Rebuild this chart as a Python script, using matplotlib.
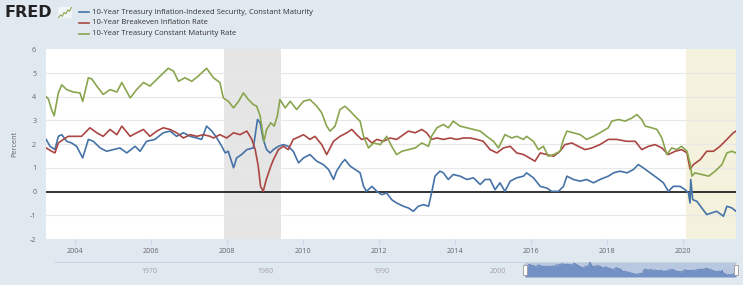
import matplotlib
matplotlib.use("Agg")
import matplotlib.pyplot as plt
from matplotlib.lines import Line2D
from matplotlib.patches import Rectangle

W, H = 743, 285

# ---------------- data (decimal years, percent) ----------------
tips_x = [2003.25, 2003.35, 2003.48, 2003.57, 2003.66, 2003.79, 2003.92, 2004.05, 2004.21, 2004.36,
          2004.49, 2004.67, 2004.84, 2005.02, 2005.19, 2005.37, 2005.59, 2005.72, 2005.89, 2006.11,
          2006.33, 2006.51, 2006.68, 2006.86, 2007.04, 2007.21, 2007.34, 2007.47, 2007.61, 2007.74,
          2007.87, 2007.96, 2008.04, 2008.18, 2008.26, 2008.39, 2008.53, 2008.70, 2008.81, 2008.88,
          2008.96, 2009.05, 2009.14, 2009.23, 2009.36, 2009.49, 2009.62, 2009.75, 2009.89, 2010.02,
          2010.19, 2010.37, 2010.54, 2010.68, 2010.81, 2010.89, 2011.03, 2011.11, 2011.25, 2011.38,
          2011.51, 2011.60, 2011.68, 2011.82, 2011.95, 2012.08, 2012.21, 2012.34, 2012.47, 2012.65,
          2012.78, 2012.91, 2013.04, 2013.18, 2013.31, 2013.39, 2013.48, 2013.61, 2013.70, 2013.83,
          2013.96, 2014.14, 2014.32, 2014.49, 2014.67, 2014.80, 2014.93, 2015.06, 2015.19, 2015.32,
          2015.46, 2015.63, 2015.81, 2015.89, 2016.07, 2016.25, 2016.42, 2016.55, 2016.73, 2016.86,
          2016.95, 2017.12, 2017.30, 2017.47, 2017.65, 2017.82, 2018.04, 2018.18, 2018.35, 2018.53,
          2018.70, 2018.83, 2018.96, 2019.14, 2019.32, 2019.49, 2019.62, 2019.75, 2019.93, 2020.06,
          2020.15, 2020.19, 2020.21, 2020.26, 2020.37, 2020.50, 2020.63, 2020.76, 2020.89, 2021.07,
          2021.16, 2021.29, 2021.40]
tips_y = [2.20, 1.91, 1.77, 2.33, 2.40, 2.12, 2.05, 1.91, 1.42, 2.20,
          2.12, 1.84, 1.70, 1.77, 1.84, 1.63, 1.91, 1.70, 2.12, 2.20,
          2.48, 2.55, 2.33, 2.48, 2.33, 2.26, 2.20, 2.76, 2.55, 2.26,
          1.91, 1.63, 1.70, 1.00, 1.42, 1.56, 1.77, 1.84, 3.04, 2.90,
          2.20, 1.77, 1.63, 1.77, 1.91, 1.98, 1.91, 1.70, 1.21, 1.42,
          1.56, 1.28, 1.14, 0.93, 0.51, 0.86, 1.21, 1.35, 1.07, 0.93,
          0.79, 0.22, 0.01, 0.22, 0.01, -0.13, -0.06, -0.34, -0.48, -0.62,
          -0.69, -0.83, -0.62, -0.55, -0.62, -0.06, 0.65, 0.86, 0.79, 0.51,
          0.72, 0.65, 0.51, 0.58, 0.30, 0.51, 0.51, 0.08, 0.37, 0.01,
          0.44, 0.58, 0.65, 0.79, 0.58, 0.22, 0.15, 0.01, 0.01, 0.22,
          0.65, 0.51, 0.44, 0.51, 0.37, 0.51, 0.65, 0.79, 0.86, 0.79,
          0.93, 1.14, 1.00, 0.79, 0.58, 0.37, 0.01, 0.22, 0.22, 0.08,
          -0.06, -0.48, 0.51, -0.34, -0.41, -0.69, -0.97, -0.90, -0.83, -1.04,
          -0.62, -0.69, -0.83]

bei_x = [2003.25, 2003.39, 2003.48, 2003.57, 2003.70, 2003.83, 2004.01, 2004.18, 2004.40, 2004.58,
         2004.75, 2004.93, 2005.11, 2005.24, 2005.46, 2005.63, 2005.81, 2005.98, 2006.16, 2006.33,
         2006.51, 2006.68, 2006.86, 2007.04, 2007.21, 2007.39, 2007.56, 2007.65, 2007.82, 2008.00,
         2008.18, 2008.35, 2008.53, 2008.66, 2008.75, 2008.83, 2008.89, 2008.96, 2009.04, 2009.10,
         2009.16, 2009.23, 2009.36, 2009.49, 2009.62, 2009.75, 2009.93, 2010.02, 2010.19, 2010.32,
         2010.50, 2010.63, 2010.81, 2010.98, 2011.16, 2011.29, 2011.42, 2011.55, 2011.68, 2011.82,
         2011.95, 2012.12, 2012.30, 2012.47, 2012.65, 2012.78, 2012.96, 2013.13, 2013.26, 2013.39,
         2013.53, 2013.70, 2013.88, 2014.05, 2014.23, 2014.40, 2014.58, 2014.75, 2014.93, 2015.11,
         2015.28, 2015.46, 2015.63, 2015.81, 2015.89, 2016.11, 2016.25, 2016.42, 2016.60, 2016.77,
         2016.90, 2017.08, 2017.25, 2017.43, 2017.61, 2017.82, 2018.04, 2018.26, 2018.53, 2018.75,
         2018.92, 2019.10, 2019.27, 2019.45, 2019.62, 2019.80, 2019.97, 2020.11, 2020.19, 2020.28,
         2020.46, 2020.63, 2020.81, 2020.98, 2021.16, 2021.33, 2021.40]
bei_y = [1.84, 1.70, 1.63, 2.05, 2.20, 2.33, 2.33, 2.33, 2.69, 2.48,
         2.33, 2.62, 2.40, 2.76, 2.33, 2.48, 2.62, 2.33, 2.55, 2.69,
         2.62, 2.48, 2.26, 2.40, 2.33, 2.40, 2.33, 2.26, 2.40, 2.26,
         2.48, 2.40, 2.55, 2.20, 1.77, 1.07, 0.22, 0.01, 0.50, 0.79,
         1.07, 1.35, 1.77, 1.91, 1.77, 2.20, 2.33, 2.40, 2.20, 2.33,
         1.98, 1.56, 2.12, 2.33, 2.48, 2.62, 2.40, 2.20, 2.26, 2.05,
         2.20, 2.12, 2.26, 2.20, 2.40, 2.55, 2.48, 2.62, 2.48, 2.20,
         2.26, 2.20, 2.26, 2.20, 2.26, 2.26, 2.20, 2.12, 1.77, 1.63,
         1.84, 1.91, 1.63, 1.56, 1.49, 1.28, 1.63, 1.56, 1.49, 1.70,
         1.98, 2.05, 1.91, 1.77, 1.84, 1.98, 2.20, 2.20, 2.12, 2.12,
         1.77, 1.91, 1.98, 1.84, 1.56, 1.70, 1.77, 1.63, 0.95, 1.14,
         1.35, 1.70, 1.70, 1.91, 2.20, 2.48, 2.55]

tcm_x = [2003.25, 2003.31, 2003.39, 2003.46, 2003.57, 2003.66, 2003.79, 2003.96, 2004.14, 2004.21,
         2004.36, 2004.45, 2004.58, 2004.75, 2004.93, 2005.11, 2005.24, 2005.46, 2005.63, 2005.81,
         2005.98, 2006.25, 2006.46, 2006.60, 2006.73, 2006.90, 2007.08, 2007.25, 2007.47, 2007.65,
         2007.82, 2007.91, 2008.04, 2008.18, 2008.31, 2008.44, 2008.57, 2008.70, 2008.79, 2008.88,
         2008.92, 2008.98, 2009.05, 2009.16, 2009.25, 2009.33, 2009.40, 2009.54, 2009.67, 2009.84,
         2010.02, 2010.19, 2010.37, 2010.50, 2010.63, 2010.72, 2010.85, 2010.98, 2011.11, 2011.25,
         2011.42, 2011.51, 2011.60, 2011.73, 2011.86, 2012.04, 2012.21, 2012.34, 2012.47, 2012.61,
         2012.78, 2012.96, 2013.13, 2013.31, 2013.39, 2013.53, 2013.70, 2013.83, 2013.96, 2014.14,
         2014.32, 2014.49, 2014.67, 2014.84, 2015.02, 2015.15, 2015.32, 2015.50, 2015.63, 2015.81,
         2015.89, 2016.07, 2016.20, 2016.33, 2016.46, 2016.60, 2016.77, 2016.86, 2016.95, 2017.12,
         2017.30, 2017.47, 2017.65, 2017.82, 2018.04, 2018.13, 2018.31, 2018.48, 2018.66, 2018.79,
         2018.92, 2019.01, 2019.18, 2019.32, 2019.45, 2019.58, 2019.71, 2019.84, 2019.97, 2020.11,
         2020.19, 2020.24, 2020.32, 2020.50, 2020.68, 2020.85, 2021.03, 2021.16, 2021.29, 2021.40]
tcm_y = [4.00, 3.90, 3.46, 3.20, 4.16, 4.50, 4.30, 4.20, 4.16, 3.80,
         4.80, 4.75, 4.45, 4.10, 4.30, 4.20, 4.60, 3.95, 4.30, 4.60,
         4.45, 4.87, 5.20, 5.08, 4.65, 4.80, 4.65, 4.87, 5.20, 4.80,
         4.60, 3.95, 3.81, 3.53, 3.80, 4.16, 3.88, 3.67, 3.60, 3.18,
         2.76, 2.12, 2.62, 2.90, 2.76, 3.18, 3.88, 3.53, 3.81, 3.46,
         3.81, 3.88, 3.60, 3.32, 2.76, 2.55, 2.76, 3.46, 3.60, 3.39,
         3.10, 2.97, 2.33, 1.84, 2.05, 1.98, 2.33, 1.91, 1.56, 1.70,
         1.77, 1.84, 2.05, 1.91, 2.33, 2.69, 2.83, 2.69, 2.97, 2.76,
         2.69, 2.62, 2.55, 2.33, 2.12, 1.84, 2.40, 2.26, 2.33, 2.20,
         2.33, 2.12, 1.77, 1.91, 1.49, 1.56, 1.70, 2.20, 2.55, 2.48,
         2.40, 2.20, 2.33, 2.48, 2.69, 2.97, 3.04, 2.97, 3.10, 3.25,
         3.04, 2.76, 2.69, 2.62, 2.26, 1.56, 1.84, 1.77, 1.91, 1.70,
         1.21, 0.65, 0.79, 0.72, 0.65, 0.86, 1.14, 1.63, 1.70, 1.63]

series_names = ["10-Year Treasury Inflation-Indexed Security, Constant Maturity",
                "10-Year Breakeven Inflation Rate",
                "10-Year Treasury Constant Maturity Rate"]
series_colors = ["#4572a7", "#aa4643", "#89a54e"]

rec_start = [2007.917, 2020.083]
rec_end = [2009.417, 2021.40]
rec_colors = ["#e5e5e5", "#f4f2dc"]

y_ticks = [-2, -1, 0, 1, 2, 3, 4, 5, 6]
x_ticks = [2004, 2006, 2008, 2010, 2012, 2014, 2016, 2018, 2020]
nav_ticks = [1970, 1980, 1990, 2000, 2010, 2020]
icon_y = [1, 3, 2, 5, 4, 7, 6, 9]

# ---------------- figure ----------------
BG = "#e1e9f0"
plt.rcParams['font.family'] = ['Open Sans', 'DejaVu Sans']
fig = plt.figure(figsize=(W / 100, H / 100), dpi=100, facecolor=BG)


def fx(px):
    return px / W


def fy(py):
    return 1 - py / H


ax = fig.add_axes([fx(46), fy(239), fx(736) - fx(46), fy(49.3) - fy(239)])
ax.set_facecolor("white")
ax.set_xlim(2003.245, 2021.40)
ax.set_ylim(-2, 6)
for s in ax.spines.values():
    s.set_visible(False)

for a, b, c in zip(rec_start, rec_end, rec_colors):
    ax.axvspan(a, b, color=c, lw=0, zorder=0)

for t in y_ticks:
    if t not in (-2, 6, 0):
        ax.axhline(t, color="#e8e8e8", lw=0.9, zorder=1)
ax.axhline(0, color="#111111", lw=1.2, zorder=2)

for xs, ys, c in zip([tips_x, bei_x, tcm_x], [tips_y, bei_y, tcm_y], series_colors):
    ax.plot(xs, ys, color=c, lw=1.2, zorder=3, solid_joinstyle="round")

ax.set_yticks(y_ticks)
ax.set_yticklabels([str(t) for t in y_ticks])
ax.set_xticks(x_ticks)
ax.set_xticklabels([str(t) for t in x_ticks])
ax.tick_params(axis="y", length=0, pad=7, labelsize=5.2, labelcolor="#666666")
ax.tick_params(axis="x", length=4, width=0.8, color="#ccd6eb", pad=2.5,
               labelsize=5.2, labelcolor="#666666")
ax.set_ylabel("Percent", fontsize=5.2, color="#666666", labelpad=8)

# ---------------- legend / logo ----------------
fig.text(fx(5), fy(12.7), "FRED", fontsize=11.5, fontweight="bold", color="#222222",
         family="DejaVu Sans", ha="left", va="center")
iax = fig.add_axes([fx(58), fy(18), fx(14), fy(7) - fy(18)])
iax.set_facecolor("#f2f5f8")
iax.plot(range(len(icon_y)), icon_y, color="#89a54e", lw=0.8)
iax.set_xticks([])
iax.set_yticks([])
for s in iax.spines.values():
    s.set_visible(False)

for i, (name, c) in enumerate(zip(series_names, series_colors)):
    yy = 12.3 + i * 10.7
    fig.add_artist(Line2D([fx(79), fx(89)], [fy(yy), fy(yy)], color=c, lw=1.2,
                          transform=fig.transFigure))
    fig.text(fx(92), fy(yy), name, fontsize=5.5, color="#333333", ha="left", va="center")

# ---------------- navigator ----------------
nav = fig.add_axes([fx(55), fy(277), fx(736) - fx(55), fy(261.7) - fy(277)])
nav.set_facecolor(BG)
nav.set_xlim(1962.85, 2021.40)
nav.set_ylim(-1.65, 3.25)
for s in nav.spines.values():
    s.set_visible(False)
nav.spines["top"].set_visible(True)
nav.spines["top"].set_color("#c8d3de")
nav.spines["top"].set_linewidth(0.8)
nav.set_xticks([])
nav.set_yticks([])
for t in nav_ticks:
    nav.text(t + 0.25, 0.33, str(t), transform=nav.get_xaxis_transform(), fontsize=5,
             color="#a0a0a0", ha="left", va="center", zorder=1)
nav.add_patch(Rectangle((tips_x[0], -1.65), tips_x[-1] - tips_x[0], 4.9,
                        facecolor="#b3c3df", edgecolor="none", alpha=0.85, zorder=2))
nav.fill_between(tips_x, -1.65, tips_y, color="#7391c5", lw=0, zorder=3)
nav.plot(tips_x, tips_y, color="#5f7fb8", lw=0.6, zorder=4)
for hx in (tips_x[0], tips_x[-1]):
    nav.add_patch(Rectangle((hx - 0.2, -0.9), 0.4, 3.0, facecolor="white",
                            edgecolor="#999999", lw=0.6, zorder=5, clip_on=False))

fig.savefig("out.png", dpi=100, facecolor=BG)
